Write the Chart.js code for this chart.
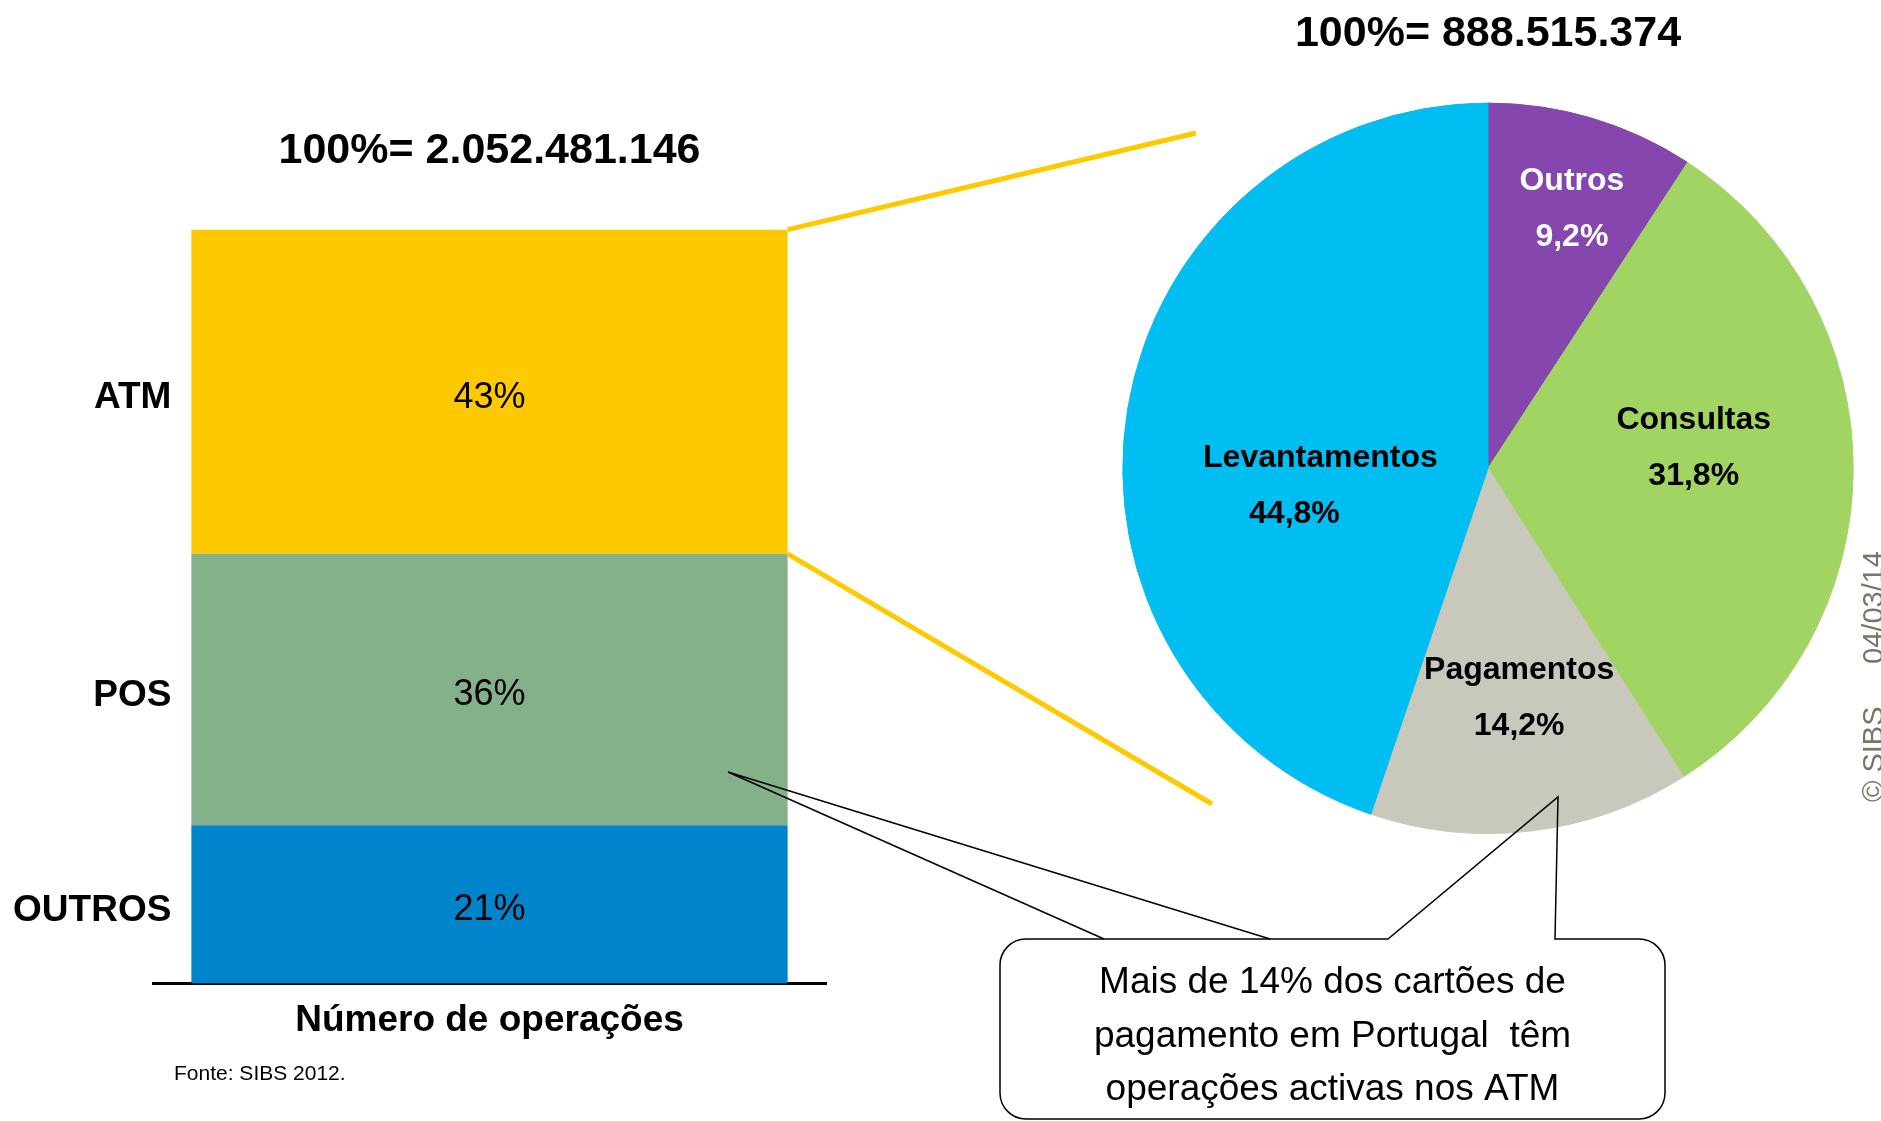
<!DOCTYPE html>
<html>
<head>
<meta charset="utf-8">
<script src="https://cdn.jsdelivr.net/npm/chart.js@4.4.1/dist/chart.umd.min.js"></script>
<style>
  html, body { margin: 0; padding: 0; background: #fff; }
  #wrap { position: relative; width: 1881px; height: 1121px; overflow: hidden; background: #fff; }
  #wrap canvas { position: absolute; left: 0; top: 0; }
</style>
</head>
<body>
<div id="wrap">
  <canvas id="barChart" width="1881" height="1121"></canvas>
  <canvas id="pieChart" width="1881" height="1121"></canvas>
</div>
<script>
// data: total operations split by channel, and the ATM split by type
var barCategories = ['Número de operações']
var barSeries = ['OUTROS', 'POS', 'ATM']
var barValues = [21, 36, 43]
var barTotal = '2.052.481.146'

var atmCategories = ['Outros', 'Consultas', 'Pagamentos', 'Levantamentos']
var atmValues = [9.2, 31.8, 14.2, 44.8]
var atmTotal = '888.515.374'

var calloutText = ['Mais de 14% dos cartões de', 'pagamento em Portugal  têm', 'operações activas nos ATM']
var sourceText = 'Fonte: SIBS 2012.'

var FONT = '"Liberation Sans", Arial, Helvetica, sans-serif'
var barColors = ['#0084CB', '#84B08A', '#FFC900']
var pieColors = ['#8547AD', '#A1D463', '#C9C8BC', '#00BDF2']
var pieTextColors = ['#fff', '#000', '#000', '#000']
// radius factor, angle shift (deg), name/value x split for each slice label (PowerPoint "best fit")
var pieLabelPlace = [[0.745, 1.4, 0], [0.566, -5.9, 0], [0.634, -0.9, 0], [0.497, -15.1, 13]]

function pct(v) { return String(v).replace('.', ',') + '%' }

var segmentLabels = {
    id: 'segmentLabels',
    afterDatasetsDraw: function (chart) {
        var ctx = chart.ctx
        ctx.save()
        ctx.textBaseline = 'middle'
        ctx.fillStyle = '#000'
        chart.data.datasets.forEach(function (ds, i) {
            var bar = chart.getDatasetMeta(i).data[0]
            var midY = (bar.y + bar.base) / 2 + 6
            ctx.font = '36px ' + FONT
            ctx.textAlign = 'center'
            ctx.fillText(pct(ds.data[0]), bar.x, midY)
            ctx.font = 'bold 37px ' + FONT
            ctx.textAlign = 'right'
            ctx.fillText(ds.label, bar.x - bar.width / 2 - 20, midY)
        })
        ctx.restore()
    }
}

var barChart = new Chart(document.getElementById('barChart'), {
    type: 'bar',
    data: {
        labels: barCategories,
        datasets: barSeries.map(function (name, i) {
            return {
                label: name,
                data: [barValues[i]],
                backgroundColor: barColors[i],
                categoryPercentage: 1,
                barPercentage: 0.886
            }
        })
    },
    options: {
        responsive: false,
        animation: false,
        layout: { padding: { left: 153, right: 1055, top: 0, bottom: 63 } },
        plugins: {
            legend: { display: false },
            tooltip: { enabled: false },
            title: {
                display: true,
                text: '100%= ' + barTotal,
                color: '#000',
                font: { family: FONT, size: 43, weight: 'bold' },
                padding: { top: 125, bottom: 53 }
            }
        },
        scales: {
            x: {
                stacked: true,
                grid: { display: false, drawTicks: false },
                border: { display: true, color: '#000', width: 3 },
                ticks: { color: '#000', padding: 15, font: { family: FONT, size: 37, weight: 'bold' } }
            },
            y: { stacked: true, display: false, min: 0, max: 100 }
        }
    },
    plugins: [segmentLabels]
})

var sliceLabels = {
    id: 'sliceLabels',
    afterDatasetsDraw: function (chart) {
        var ctx = chart.ctx
        var arcs = chart.getDatasetMeta(0).data
        ctx.save()
        ctx.textAlign = 'center'
        ctx.textBaseline = 'middle'
        ctx.font = 'bold 32px ' + FONT
        arcs.forEach(function (arc, i) {
            var p = pieLabelPlace[i]
            var a = (arc.startAngle + arc.endAngle) / 2 + p[1] * Math.PI / 180
            var r = arc.outerRadius * p[0]
            var cx = arc.x + Math.cos(a) * r
            var cy = arc.y + Math.sin(a) * r
            ctx.fillStyle = pieTextColors[i]
            ctx.fillText(chart.data.labels[i], cx + p[2], cy - 28)
            ctx.fillText(pct(chart.data.datasets[0].data[i]), cx - p[2], cy + 28)
        })
        ctx.restore()
    }
}

// connectors from the ATM bar to the pie, the speech bubble, source and stamp
var overlay = {
    id: 'overlay',
    afterDraw: function (chart) {
        var ctx = chart.ctx
        var atm = barChart.getDatasetMeta(2).data[0]
        var right = atm.x + atm.width / 2
        ctx.save()

        ctx.strokeStyle = '#FFC900'
        ctx.lineWidth = 5
        ctx.beginPath()
        ctx.moveTo(right, atm.y); ctx.lineTo(1196, 133)
        ctx.moveTo(right, atm.base); ctx.lineTo(1212, 804)
        ctx.stroke()

        var x0 = 1000, x1 = 1665, y0 = 939, y1 = 1119, rr = 26
        ctx.strokeStyle = '#000'
        ctx.lineWidth = 1.5
        ctx.beginPath()
        ctx.moveTo(x0 + rr, y0)
        ctx.lineTo(1388, y0); ctx.lineTo(1558, 797); ctx.lineTo(1555, y0)
        ctx.lineTo(x1 - rr, y0)
        ctx.arcTo(x1, y0, x1, y0 + rr, rr)
        ctx.lineTo(x1, y1 - rr)
        ctx.arcTo(x1, y1, x1 - rr, y1, rr)
        ctx.lineTo(x0 + rr, y1)
        ctx.arcTo(x0, y1, x0, y1 - rr, rr)
        ctx.lineTo(x0, y0 + rr)
        ctx.arcTo(x0, y0, x0 + rr, y0, rr)
        ctx.closePath()
        ctx.stroke()

        ctx.beginPath()
        ctx.moveTo(1104, y0); ctx.lineTo(728, 772); ctx.lineTo(1270, y0)
        ctx.stroke()

        ctx.fillStyle = '#000'
        ctx.textAlign = 'center'
        ctx.textBaseline = 'middle'
        ctx.font = '37px ' + FONT
        calloutText.forEach(function (line, i) {
            ctx.fillText(line, (x0 + x1) / 2, 983 + i * 53.5)
        })

        ctx.textAlign = 'left'
        ctx.font = '21px ' + FONT
        ctx.fillText(sourceText, 174, 1074)

        ctx.translate(1883, 802)
        ctx.rotate(-Math.PI / 2)
        ctx.fillStyle = '#737866'
        ctx.font = '29px ' + FONT
        ctx.textBaseline = 'alphabetic'
        ctx.fillText('\u00a9 SIBS', 0, 0)
        ctx.textAlign = 'right'
        ctx.fillText('04/03/14', 251, 0)
        ctx.restore()
    }
}

var pieChart = new Chart(document.getElementById('pieChart'), {
    type: 'pie',
    data: {
        labels: atmCategories,
        datasets: [{
            data: atmValues,
            backgroundColor: pieColors,
            borderColor: pieColors,
            borderWidth: 1,
            hoverOffset: 0
        }]
    },
    options: {
        responsive: false,
        animation: false,
        layout: { padding: { left: 1122, right: 27, top: 0, bottom: 287 } },
        plugins: {
            legend: { display: false },
            tooltip: { enabled: false },
            title: {
                display: true,
                text: '100%= ' + atmTotal,
                color: '#000',
                font: { family: FONT, size: 43, weight: 'bold' },
                padding: { top: 8, bottom: 43 }
            }
        }
    },
    plugins: [sliceLabels, overlay]
})
</script>
</body>
</html>
